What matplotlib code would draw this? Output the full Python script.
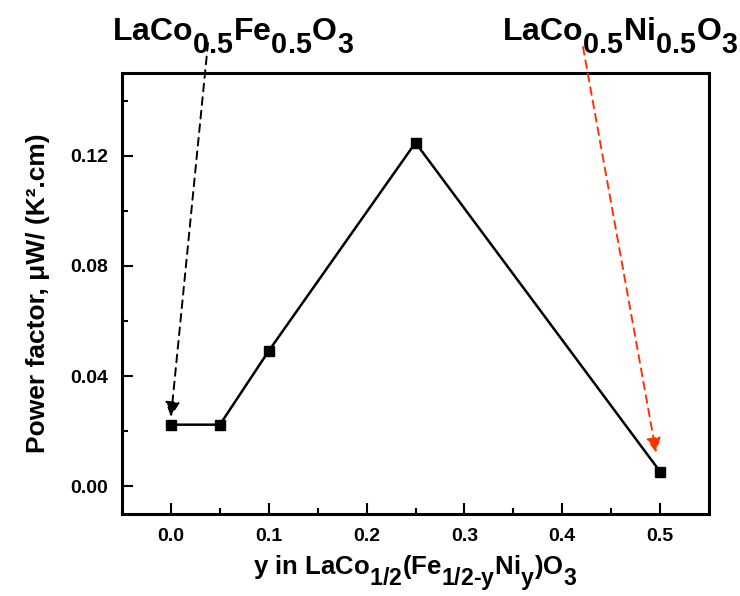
import numpy as np
import matplotlib.pyplot as plt
import matplotlib._mathtext as mt
from matplotlib.ticker import MultipleLocator

# power factor vs Ni content
y_ni = [0.0, 0.05, 0.1, 0.25, 0.5]
pf = [0.0224, 0.0224, 0.0492, 0.1247, 0.0054]

plt.rcParams['font.family'] = ['Liberation Sans', 'DejaVu Sans']
plt.rcParams['font.weight'] = 'bold'
plt.rcParams['mathtext.fontset'] = 'custom'
plt.rcParams['mathtext.rm'] = 'Liberation Sans:bold'
plt.rcParams['mathtext.it'] = 'Liberation Sans:bold'
plt.rcParams['mathtext.bf'] = 'Liberation Sans:bold'
# big, low-set subscripts for the chemical formulas
mt.SHRINK_FACTOR = 0.9
mt.FontConstantsBase.sub1 = 0.8

fig = plt.figure(figsize=(7.4, 5.96), dpi=100)
ax = fig.add_axes([0.165, 0.1376, 0.793, 0.740])

ax.plot(y_ni, pf, 'k-', lw=1.8, marker='s', ms=7, mfc='k', mec='k')

ax.set_xlim(-0.05, 0.55)
ax.set_ylim(-0.01, 0.15)
ax.xaxis.set_minor_locator(MultipleLocator(0.05))
ax.yaxis.set_minor_locator(MultipleLocator(0.02))
ax.set_xticks([0.0, 0.1, 0.2, 0.3, 0.4, 0.5])
ax.set_xticklabels(['0.0', '0.1', '0.2', '0.3', '0.4', '0.5'])
ax.set_yticks([0.0, 0.04, 0.08, 0.12])
ax.set_yticklabels(['0.00', '0.04', '0.08', '0.12'])
ax.tick_params(which='major', direction='in', length=8, width=1.5, labelsize=14, pad=10)
ax.tick_params(which='minor', direction='in', length=4, width=1.5)
for s in ax.spines.values():
    s.set_linewidth(2.2)

ax.set_xlabel(r'y in LaCo$_{1/2}$(Fe$_{1/2\text{-y}}$Ni$_\text{y}$)O$_3$',
              fontsize=18.5, fontweight='bold', labelpad=6)
ax.set_ylabel('Power factor, μW/ (K².cm)',
              fontsize=19, fontweight='bold', labelpad=15)

# end-member compositions
fig.text(233, 556, r'LaCo$_{0.5}$Fe$_{0.5}$O$_3$', transform=None,
         ha='center', va='baseline', fontsize=23, fontweight='bold')
fig.text(620, 556, r'LaCo$_{0.5}$Ni$_{0.5}$O$_3$', transform=None,
         ha='center', va='baseline', fontsize=23, fontweight='bold')

ax.annotate('', xy=(0.0, 0.0253), xytext=(208, 553), textcoords='figure pixels',
            arrowprops=dict(arrowstyle='-|>', linestyle=(0, (4, 3)), color='k', lw=1.4,
                            mutation_scale=22, shrinkA=0, shrinkB=0))
ax.annotate('', xy=(0.496, 0.0123), xytext=(583, 549), textcoords='figure pixels',
            arrowprops=dict(arrowstyle='-|>', linestyle=(0, (4, 3)), color='#ff3300', lw=1.4,
                            mutation_scale=22, shrinkA=0, shrinkB=0))

plt.savefig('out.png', dpi=100)
